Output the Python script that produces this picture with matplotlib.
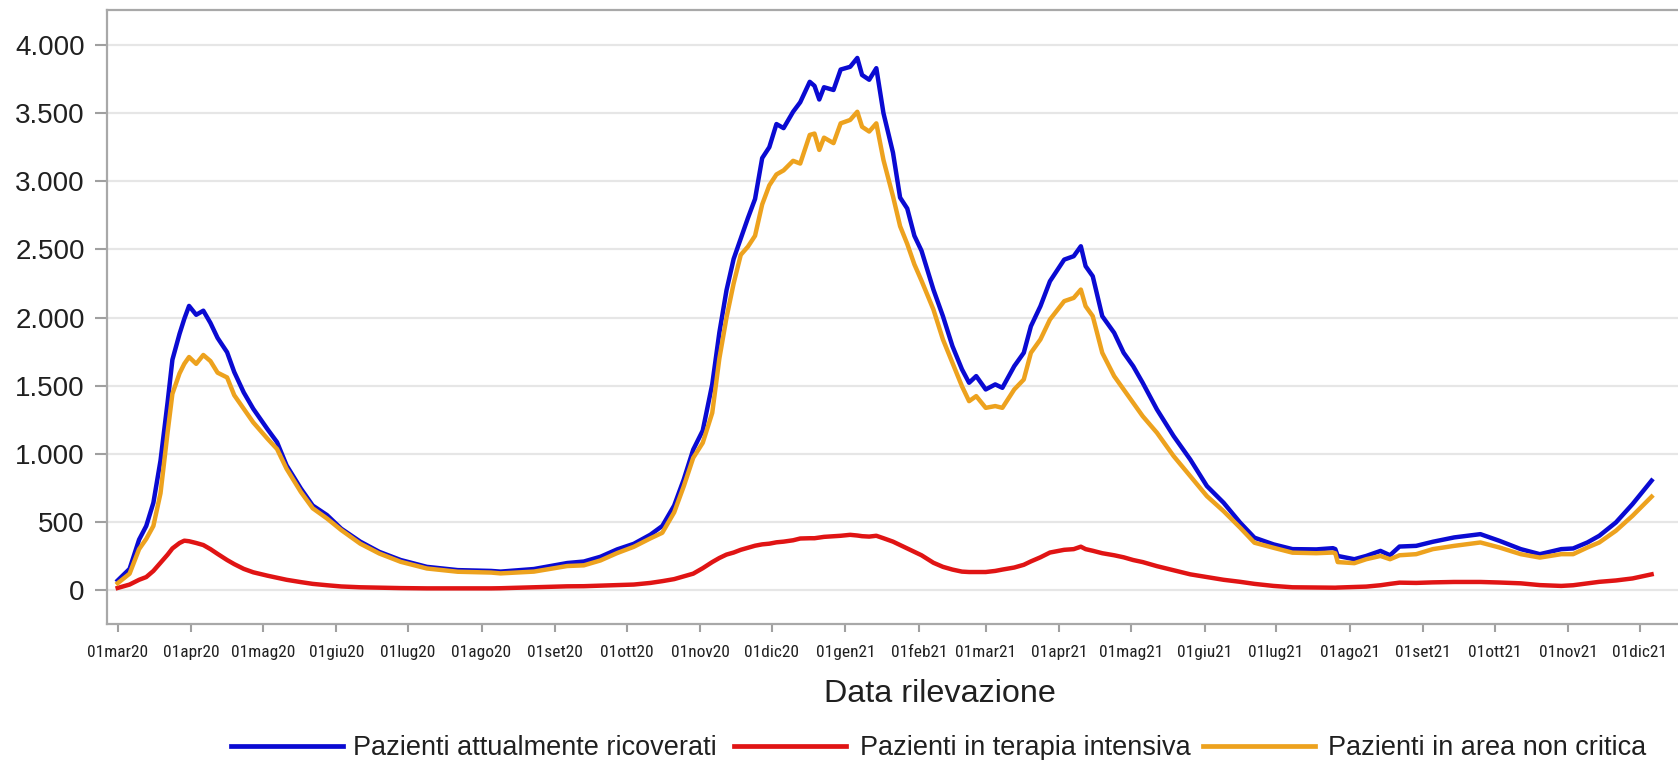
import numpy as np
import pandas as pd
import matplotlib
matplotlib.use("Agg")
import matplotlib.pyplot as plt
from matplotlib import font_manager
from matplotlib.lines import Line2D

# ---------------- data (day offsets from start date) ----------------
start_date = "2020-03-01"
days = [0, 5, 9, 12, 15, 18, 21, 23, 26, 28, 30, 33, 36, 39, 42, 46, 49, 53, 57, 63,
        67, 71, 77, 82, 88, 94, 102, 110, 119, 130, 143, 157, 161, 175, 189, 196, 203, 210, 217, 224,
        229, 234, 238, 242, 246, 250, 253, 256, 259, 262, 265, 268, 271, 274, 277, 280, 284, 287, 291, 293,
        295, 297, 301, 304, 308, 311, 313, 316, 319, 322, 326, 329, 332, 335, 338, 343, 347, 351, 355, 358,
        361, 365, 369, 372, 377, 381, 384, 388, 392, 398, 402, 405, 407, 410, 414, 419, 423, 427, 431, 437,
        444, 451, 458, 465, 472, 478, 486, 494, 504, 511, 512, 513, 520, 525, 531, 535, 539, 546, 553, 562,
        573, 581, 590, 598, 607, 612, 618, 623, 630, 637, 645]

ricoverati = [70, 155, 370, 470, 640, 950, 1380, 1690, 1880, 1990, 2085, 2020, 2050, 1960, 1850, 1745, 1600, 1450, 1330, 1180,
              1085, 915, 745, 620, 550, 450, 355, 280, 220, 170, 146, 140, 135, 154, 198, 209, 244, 298, 339, 406,
              470, 620, 810, 1030, 1170, 1510, 1890, 2200, 2430, 2580, 2730, 2870, 3170, 3250, 3420, 3390, 3510, 3580, 3730, 3700,
              3600, 3690, 3670, 3820, 3840, 3905, 3780, 3745, 3830, 3500, 3210, 2880, 2800, 2600, 2490, 2205, 2010, 1790, 1620, 1521,
              1570, 1472, 1509, 1484, 1643, 1741, 1936, 2083, 2266, 2425, 2450, 2523, 2377, 2303, 2010, 1888, 1741, 1643, 1521, 1325,
              1130, 958, 763, 641, 494, 384, 335, 300, 298, 307, 300, 250, 226, 250, 287, 255, 319, 324, 354, 386,
              410, 361, 300, 263, 300, 305, 349, 398, 496, 631, 803]

terapia_intensiva = [15, 40, 75, 95, 140, 200, 260, 305, 345, 362, 358, 345, 330, 300, 265, 220, 190, 155, 130, 105,
                     90, 75, 58, 45, 35, 26, 20, 17, 14, 12, 12, 12, 13, 20, 27, 28, 32, 36, 40, 52,
                     65, 80, 100, 120, 160, 205, 235, 260, 275, 295, 310, 325, 335, 340, 350, 355, 365, 378, 380, 380,
                     385, 390, 395, 398, 405, 400, 395, 392, 398, 380, 355, 330, 305, 280, 255, 200, 170, 150, 135, 132,
                     132, 132, 140, 150, 165, 185, 210, 240, 275, 295, 300, 318, 300, 288, 270, 255, 240, 220, 205, 175,
                     145, 115, 95, 75, 60, 45, 30, 20, 18, 17, 17, 18, 22, 25, 35, 45, 54, 52, 56, 59,
                     59, 55, 49, 36, 30, 35, 49, 60, 70, 85, 115]

area_non_critica = [50, 120, 300, 375, 470, 710, 1160, 1440, 1590, 1660, 1710, 1660, 1725, 1680, 1595, 1560, 1430, 1330, 1230, 1110,
                    1035, 890, 720, 600, 525, 440, 340, 268, 207, 158, 134, 128, 122, 135, 176, 181, 217, 271, 317, 379,
                    420, 570, 760, 970, 1080, 1300, 1700, 2000, 2250, 2460, 2520, 2600, 2830, 2970, 3050, 3080, 3150, 3130, 3340, 3350,
                    3230, 3320, 3280, 3425, 3450, 3510, 3400, 3365, 3425, 3156, 2890, 2670, 2540, 2390, 2270, 2059, 1839, 1667, 1496, 1386,
                    1423, 1337, 1350, 1337, 1472, 1545, 1741, 1839, 1985, 2120, 2144, 2205, 2083, 2010, 1741, 1570, 1472, 1374, 1276, 1154,
                    983, 836, 689, 579, 457, 347, 310, 274, 270, 275, 270, 205, 197, 226, 250, 226, 255, 263, 300, 324,
                    349, 312, 263, 238, 263, 263, 312, 349, 435, 545, 685]

series_labels = ["Pazienti attualmente ricoverati", "Pazienti in terapia intensiva", "Pazienti in area non critica"]
month_labels = ["01mar20", "01apr20", "01mag20", "01giu20", "01lug20", "01ago20", "01set20", "01ott20",
                "01nov20", "01dic20", "01gen21", "01feb21", "01mar21", "01apr21", "01mag21", "01giu21",
                "01lug21", "01ago21", "01set21", "01ott21", "01nov21", "01dic21"]
y_ticks = [0, 500, 1000, 1500, 2000, 2500, 3000, 3500, 4000]
y_tick_labels = ["0", "500", "1.000", "1.500", "2.000", "2.500", "3.000", "3.500", "4.000"]
x_label = "Data rilevazione"

# ---------------- fonts ----------------
avail = {f.name for f in font_manager.fontManager.ttflist}
narrow = next((n for n in ["Liberation Sans Narrow", "Roboto Condensed", "Archivo Narrow",
                           "Asap Condensed", "Barlow Semi Condensed"] if n in avail), "Liberation Sans")
plt.rcParams["font.family"] = ["Liberation Sans", "DejaVu Sans"]

W, H = 1678, 760
fig = plt.figure(figsize=(W / 100, H / 100), dpi=100)
renderer = fig.canvas.get_renderer()


def fit_size(text, family, target_px, base=20.0):
    t = fig.text(0, 0, text, fontsize=base, family=family)
    w = t.get_window_extent(renderer).width
    t.remove()
    return base * target_px / w


tick_fs = fit_size("01mar20", narrow, 61)
leg_fs = fit_size(series_labels[0], "Liberation Sans", 362)
xl_fs = fit_size(x_label, "Liberation Sans", 232)

ax_left, ax_top, ax_bottom, ax_right = 107, 10, 624, 1678
ax = fig.add_axes([ax_left / W, 1 - ax_bottom / H, (ax_right - ax_left) / W, (ax_bottom - ax_top) / H])

t0 = pd.Timestamp(start_date)
x = np.array([t0 + pd.Timedelta(days=d) for d in days])

c_blue, c_red, c_orange = "#0a0ad2", "#e01414", "#eda21e"
lw = 3.2
lines = []
lines += ax.plot(x, ricoverati, color=c_blue, lw=lw, solid_joinstyle="round")
lines += ax.plot(x, terapia_intensiva, color=c_red, lw=lw, solid_joinstyle="round")
lines += ax.plot(x, area_non_critica, color=c_orange, lw=lw, solid_joinstyle="round")

ax.set_xlim(t0 - pd.Timedelta(days=4.5), t0 + pd.Timedelta(days=656.1))
ax.set_ylim(-249.5, 4257)

ticks = pd.date_range(start_date, periods=len(month_labels), freq="MS")
ax.set_xticks(ticks)
ax.set_xticklabels(month_labels, fontsize=tick_fs, family=narrow, color="#202020")
ax.set_yticks(y_ticks)
ax.set_yticklabels(y_tick_labels, fontsize=20, color="#202020")

ax.tick_params(axis="y", length=9, width=1.5, color="#a0a0a0", pad=7)
ax.tick_params(axis="x", length=6, width=1.5, color="#a0a0a0", pad=9)

ax.grid(axis="y", color="#e6e6e6", lw=1.6)
ax.set_axisbelow(True)
for side in ["left", "top", "bottom"]:
    ax.spines[side].set_color("#a8a8a8")
    ax.spines[side].set_linewidth(1.6)
ax.spines["right"].set_visible(False)

fig.text(940 / W, 1 - 694 / H, x_label, fontsize=xl_fs, ha="center", va="center", color="#202020")

# legend (manual layout in pixels)
leg_line_y = 746
leg_text_y = 745
leg_items = [(231, 343, 353), (734, 846, 860), (1203, 1315, 1328)]
for (x0, x1, xt), ln, lab in zip(leg_items, lines, series_labels):
    fig.add_artist(Line2D([x0 / W, x1 / W], [1 - leg_line_y / H, 1 - leg_line_y / H], transform=fig.transFigure,
                          color=ln.get_color(), lw=3.4))
    fig.text(xt / W, 1 - leg_text_y / H, lab, fontsize=leg_fs, ha="left", va="center_baseline", color="#202020")

fig.savefig("out.png", dpi=100)
